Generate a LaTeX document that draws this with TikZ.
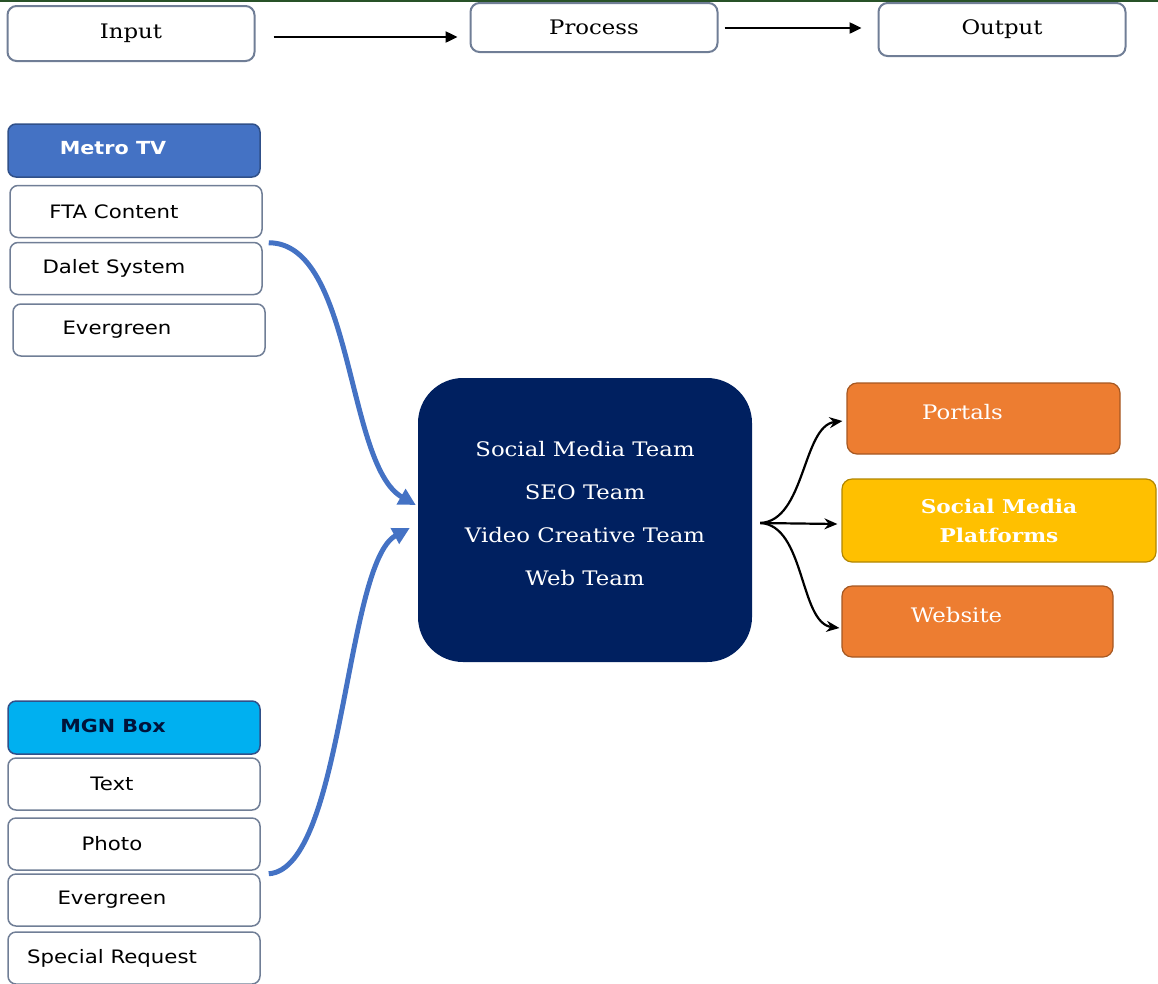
\documentclass[tikz,border=0pt]{standalone}
\usepackage{fontspec}
\setmainfont{DejaVu Serif}[FakeStretch=1.14]
\setsansfont{DejaVu Sans}[FakeStretch=1.15]
\usetikzlibrary{arrows.meta}
\definecolor{boxline}{RGB}{112,126,150}
\definecolor{metroblue}{RGB}{68,114,196}
\definecolor{mgncyan}{RGB}{0,176,240}
\definecolor{teamnavy}{RGB}{0,32,96}
\definecolor{portorange}{RGB}{237,125,49}
\definecolor{smpyellow}{RGB}{255,192,0}
\definecolor{topgreen}{RGB}{40,82,40}

\begin{document}
\begin{tikzpicture}[x=1pt, y=-1pt,
  stagebox/.style={draw=boxline, line width=2pt, rounded corners=9pt, minimum width=247pt, font=\fontsize{20}{24}\selectfont},
  srcbox/.style={draw=boxline, line width=1.5pt, fill=white, rounded corners=8pt, minimum width=252pt, minimum height=52pt},
  srctext/.style={font=\sffamily\fontsize{18.5}{22}\selectfont, xshift=-22pt},
  headbox/.style={draw=metroblue!70!black, line width=1.5pt, fill=#1, rounded corners=8pt, minimum width=252pt, minimum height=53pt},
  headtext/.style={font=\sffamily\bfseries\fontsize{18}{22}\selectfont, xshift=-21pt, yshift=2pt},
  outbox/.style={draw=#1!70!black, fill=#1, line width=1.2pt, rounded corners=10pt, minimum height=71pt},
  outtext/.style={font=\fontsize{20}{24}\selectfont, text=white, xshift=-21pt, yshift=6pt},
  flow/.style={-{Triangle[length=12pt,width=11pt]}, line width=2.4pt},
  feed/.style={-{Triangle[length=17pt,width=17pt]}, line width=5pt, metroblue},
  fan/.style={-{Stealth[length=13pt,width=11pt]}, line width=2.2pt}]
\useasboundingbox (0,0) rectangle (1158,983);
\draw[topgreen, line width=2.5pt] (0,1) -- (1158,1);

\node[stagebox, minimum height=55pt] (input) at (131,33.5) {Input};
\node[stagebox, minimum height=49pt] (process) at (594,27.5) {Process};
\node[stagebox, minimum height=53pt] (output) at (1002,29.5) {Output};
\draw[flow] ([shift={(18,3.5)}]input.east) -- ([shift={(-12,9.5)}]process.west);
\draw[flow] ([shift={(6,0.5)}]process.east) -- ([shift={(-16,-1.5)}]output.west);

\node[headbox=metroblue, label={[headtext, text=white]center:Metro TV}] (metro) at (134,150.5) {};
\node[headbox=mgncyan, label={[headtext, text=teamnavy!60!black]center:MGN Box}] (mgn) at (134,727.5) {};
\foreach \id/\cx/\cy/\txt in {fta/136/211.5/FTA Content, dalet/136/268.5/Dalet System,
    everA/139/330/Evergreen, text/134/784/Text, photo/134/844/Photo,
    everB/134/900/Evergreen, special/134/958/Special Request}
  \node[srcbox, label={[srctext]center:\txt}] (\id) at (\cx,\cy) {};

\node[fill=teamnavy, rounded corners=45pt, minimum width=334pt, minimum height=284pt,
  label={[font=\fontsize{20}{43}\selectfont, text=white, align=center, yshift=6pt]center:Social Media Team\\SEO Team\\Video Creative Team\\Web Team}] (teams) at (585,520) {};

\node[outbox=portorange, minimum width=273pt, label={[outtext]center:Portals}] (portals) at (983.5,418.5) {};
\node[outbox=smpyellow, minimum width=314pt, minimum height=83pt,
  label={[font=\bfseries\fontsize{19}{29}\selectfont, text=white, align=center]center:Social Media\\Platforms}] (smp) at (999,520.5) {};
\node[outbox=portorange, minimum width=271pt, label={[outtext]center:Website}] (website) at (977.5,621.5) {};

\draw[feed] ([shift={(6,1)}]dalet.north east) .. controls +(85,0) and +(-70,-40) .. ([shift={(-2,-15)}]teams.west);
\draw[feed] ([shift={(8,3)}]photo.south east) .. controls +(75,-5) and +(-65,35) .. ([shift={(-8,8)}]teams.west);

\draw[fan] ([shift={(8,3)}]teams.east) .. controls +(45,-2) and +(-40,5) .. ([shift={(-4,2.5)}]portals.west);
\draw[fan] ([shift={(8,3)}]teams.east) -- ([shift={(-4,3.5)}]smp.west);
\draw[fan] ([shift={(8,3)}]teams.east) .. controls +(45,2) and +(-40,-5) .. ([shift={(-2,6.5)}]website.west);
\end{tikzpicture}
\end{document}
